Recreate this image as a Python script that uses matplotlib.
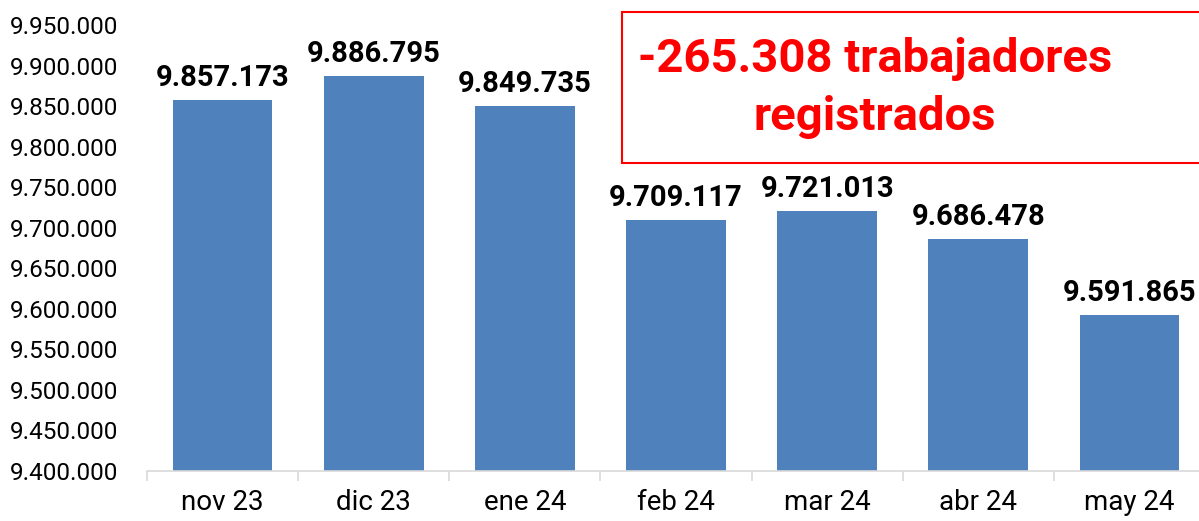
import matplotlib
matplotlib.use("Agg")
import matplotlib.pyplot as plt
from matplotlib.patches import Rectangle

categories = ["nov 23", "dic 23", "ene 24", "feb 24", "mar 24", "abr 24", "may 24"]
values = [9857173, 9886795, 9849735, 9709117, 9721013, 9686478, 9591865]
yticks = list(range(9400000, 9950001, 50000))
box_line1 = "-265.308 trabajadores"
box_line2 = "registrados"

plt.rcParams['font.family'] = ['Roboto', 'DejaVu Sans']

def fmt(v):
    return f"{v:,}".replace(",", ".")

W, H = 1199, 521
fig = plt.figure(figsize=(W / 100, H / 100), dpi=100)
left_px, right_px = 147, 1205
bottom_px, top_px = 471, 25
ax = fig.add_axes([left_px / W, (H - bottom_px) / H, (right_px - left_px) / W, (bottom_px - top_px) / H])

x = list(range(len(categories)))
ax.bar(x, values, width=0.66, color="#4F81BD", bottom=0, zorder=2)
ax.set_ylim(9400000, 9950000)
ax.set_xlim(-0.5, len(categories) - 0.5)

ax.set_yticks(yticks)
ax.set_yticklabels([fmt(v) for v in yticks], fontsize=17.5, color="#000000")
ax.tick_params(axis="y", length=0, pad=21)

ax.set_xticks(x)
ax.set_xticklabels(categories, fontsize=20, color="#000000")
ax.set_xticks([i - 0.5 for i in range(len(categories) + 1)], minor=True)
ax.tick_params(axis="x", which="major", length=0, pad=13)
ax.tick_params(axis="x", which="minor", length=7, color="#D9D9D9", width=1.2)

for s in ["top", "right", "left"]:
    ax.spines[s].set_visible(False)
ax.spines["bottom"].set_color("#D9D9D9")
ax.spines["bottom"].set_linewidth(1.2)

for xi, v in zip(x, values):
    ax.annotate(fmt(v), (xi, v), xytext=(0, 14), textcoords="offset pixels",
                ha="center", va="baseline", fontsize=21, fontweight="bold", color="#000000")

# red box
bx0, by0, bx1, by1 = 622, 12, 1210, 163
fig.patches.append(Rectangle((bx0 / W, (H - by1) / H), (bx1 - bx0) / W, (by1 - by0) / H,
                             transform=fig.transFigure, fill=True, facecolor="white",
                             edgecolor="#FF0000", linewidth=1.5, zorder=5))
fig.text(875 / W, (H - 72) / H, box_line1, ha="center", va="baseline", fontsize=34,
         fontweight="bold", color="#FF0000", zorder=6)
fig.text(875 / W, (H - 130) / H, box_line2, ha="center", va="baseline", fontsize=34,
         fontweight="bold", color="#FF0000", zorder=6)

fig.savefig("out.png", dpi=100)
